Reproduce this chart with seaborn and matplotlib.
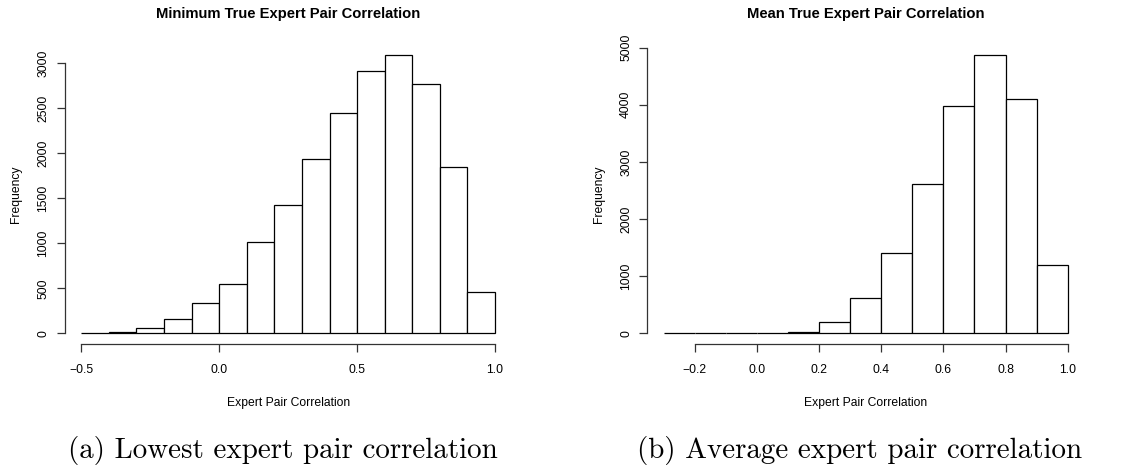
import numpy as np
import matplotlib
matplotlib.use("Agg")
import matplotlib.pyplot as plt
import seaborn as sns

# ---- data ----
min_breaks = [-0.5, -0.4, -0.3, -0.2, -0.1, 0.0, 0.1, 0.2, 0.3, 0.4, 0.5, 0.6, 0.7, 0.8, 0.9, 1.0]
min_counts = [5, 12, 55, 155, 332, 545, 1018, 1426, 1940, 2451, 2914, 3089, 2767, 1844, 459]

mean_breaks = [-0.3, -0.2, -0.1, 0.0, 0.1, 0.2, 0.3, 0.4, 0.5, 0.6, 0.7, 0.8, 0.9, 1.0]
mean_counts = [6, 0, 5, 3, 30, 193, 626, 1398, 2613, 3978, 4865, 4095, 1195]

min_xticks = [-0.5, 0.0, 0.5, 1.0]
min_xticklabels = ["\u22120.5", "0.0", "0.5", "1.0"]
min_yticks = [0, 500, 1000, 1500, 2000, 2500, 3000]

mean_xticks = [-0.2, 0.0, 0.2, 0.4, 0.6, 0.8, 1.0]
mean_xticklabels = ["\u22120.2", "0.0", "0.2", "0.4", "0.6", "0.8", "1.0"]
mean_yticks = [0, 1000, 2000, 3000, 4000, 5000]

titles = ["Minimum True Expert Pair Correlation", "Mean True Expert Pair Correlation"]
xlabel = "Expert Pair Correlation"
ylabel = "Frequency"
captions = ["(a) Lowest expert pair correlation", "(b) Average expert pair correlation"]

# ---- style ----
sns.set_theme(style="white")
plt.rcParams["font.family"] = ["Liberation Sans", "DejaVu Sans"]
plt.rcParams["text.color"] = "black"
plt.rcParams["axes.labelcolor"] = "black"
plt.rcParams["xtick.color"] = "black"
plt.rcParams["ytick.color"] = "black"

W, H = 1133, 472
fig = plt.figure(figsize=(W / 100, H / 100), dpi=100)

def px_axes(x0, x1, ytop, ybot):
    return fig.add_axes([x0 / W, 1 - ybot / H, (x1 - x0) / W, (ybot - ytop) / H])

ax1 = px_axes(64.7, 511.6, 44.2, 344.4)
ax2 = px_axes(647.4, 1083.9, 44.2, 344.4)

panels = [
    (ax1, min_breaks, min_counts, min_xticks, min_xticklabels, min_yticks),
    (ax2, mean_breaks, mean_counts, mean_xticks, mean_xticklabels, mean_yticks),
]

for i, (ax, breaks, counts, xt, xtl, yt) in enumerate(panels):
    centers = [(a + b) / 2 for a, b in zip(breaks[:-1], breaks[1:])]
    sns.histplot(x=centers, weights=counts, bins=breaks, stat="count",
                 color="white", edgecolor="black", linewidth=0.9, alpha=1,
                 ax=ax)
    rng = breaks[-1] - breaks[0]
    ax.set_xlim(breaks[0] - 0.04 * rng, breaks[-1] + 0.04 * rng)
    ymax = max(counts)
    ax.set_ylim(-0.04 * ymax, ymax * 1.04)
    ax.set_xticks(xt)
    ax.set_xticklabels(xtl)
    ax.set_yticks(yt)
    ax.set_yticklabels([str(v) for v in yt], rotation=90, va="center")
    for s in ["top", "right"]:
        ax.spines[s].set_visible(False)
    ax.spines["left"].set_bounds(yt[0], yt[-1])
    ax.spines["bottom"].set_bounds(xt[0], xt[-1])
    for s in ["left", "bottom"]:
        ax.spines[s].set_color("#333333")
        ax.spines[s].set_linewidth(0.9)
    ax.tick_params(axis="both", which="major", direction="out", length=6,
                   width=0.9, color="#333333", labelcolor="black",
                   labelsize=8.7, bottom=True, left=True)
    ax.tick_params(axis="x", pad=8)
    ax.tick_params(axis="y", pad=5)
    ax.set_xlabel(xlabel, fontsize=8.7, labelpad=15.5, color="black")
    ax.set_ylabel(ylabel, fontsize=8.7, labelpad=11, color="black")
    ax.set_title(titles[i], fontsize=10.6, fontweight="bold", pad=19, color="black")
    ax.grid(False)
    ax.set_facecolor("white")

fig.text(282.8 / W, 1 - 450 / H, captions[0], fontfamily="cmr10", fontsize=20.9,
         ha="center", va="center", color="black")
fig.text(859.7 / W, 1 - 450 / H, captions[1], fontfamily="cmr10", fontsize=20.9,
         ha="center", va="center", color="black")

fig.savefig("out.png", dpi=100, facecolor="white")
